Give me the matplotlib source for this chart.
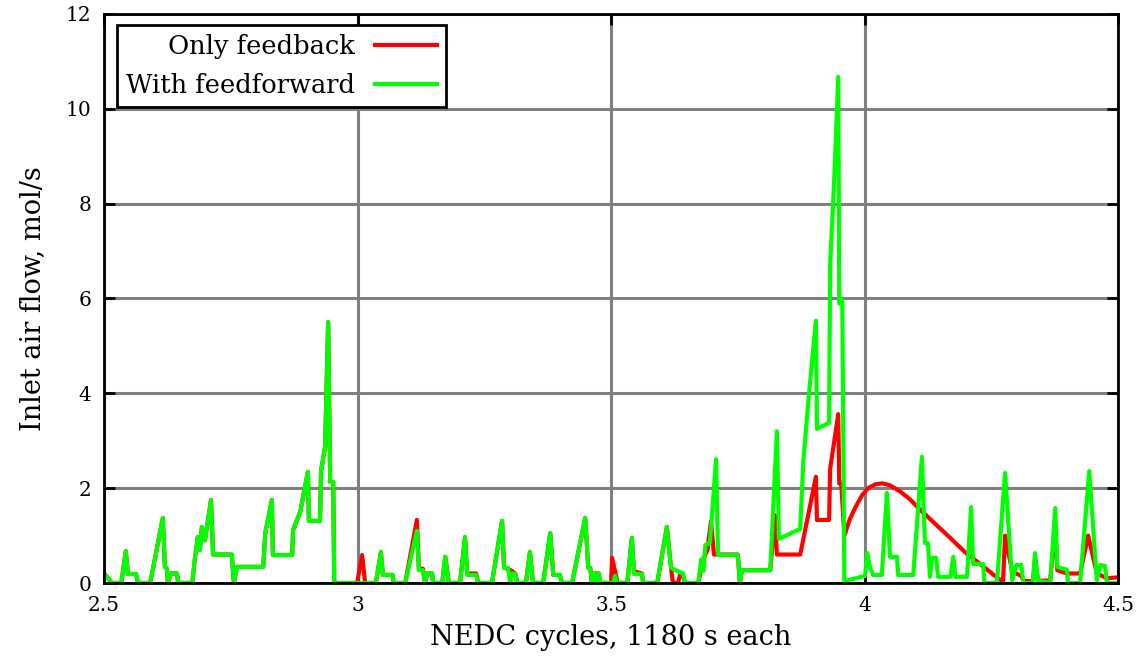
import numpy as np
import matplotlib
matplotlib.use("Agg")
import matplotlib.pyplot as plt

# inlet air flow (mol/s) vs NEDC cycles
ff_x = [2.500, 2.516, 2.534, 2.543, 2.547, 2.563, 2.567, 2.591, 2.616, 2.620,
        2.624, 2.626, 2.632, 2.644, 2.646, 2.674, 2.679, 2.685, 2.689, 2.693,
        2.699, 2.711, 2.715, 2.752, 2.756, 2.762, 2.814, 2.818, 2.831, 2.833,
        2.871, 2.873, 2.887, 2.902, 2.904, 2.926, 2.928, 2.936, 2.942, 2.946,
        2.952, 2.954,
        3.036, 3.046, 3.050, 3.069, 3.071, 3.094, 3.117, 3.121, 3.129, 3.133,
        3.137, 3.147, 3.149, 3.167, 3.173, 3.180, 3.202, 3.212, 3.216, 3.234,
        3.238, 3.265, 3.285, 3.289, 3.297, 3.301, 3.305, 3.311, 3.315, 3.332,
        3.340, 3.346, 3.366, 3.380, 3.386, 3.399, 3.403, 3.423, 3.449, 3.455,
        3.459, 3.462, 3.466, 3.470, 3.472, 3.476, 3.478, 3.504, 3.508, 3.512,
        3.532, 3.541, 3.545, 3.561, 3.563, 3.591, 3.610, 3.618, 3.642, 3.646,
        3.672, 3.678, 3.682, 3.686, 3.695, 3.707, 3.711, 3.750, 3.754, 3.758,
        3.814, 3.827, 3.831, 3.873, 3.879, 3.891, 3.904, 3.906, 3.930, 3.932,
        3.940, 3.948, 3.950, 3.956, 3.960,
        4.001, 4.005, 4.011, 4.017, 4.034, 4.044, 4.050, 4.064, 4.066, 4.096,
        4.113, 4.119, 4.125, 4.129, 4.133, 4.141, 4.145, 4.169, 4.175, 4.179,
        4.202, 4.210, 4.214, 4.234, 4.236, 4.261, 4.277, 4.291, 4.299, 4.309,
        4.313, 4.332, 4.336, 4.342, 4.366, 4.376, 4.380, 4.399, 4.401, 4.425,
        4.443, 4.458, 4.465, 4.474, 4.478, 4.500]
ff_y = [0.20, 0.00, 0.00, 0.67, 0.19, 0.19, 0.00, 0.00, 1.37, 0.34,
        0.30, 0.00, 0.20, 0.20, 0.00, 0.00, 0.50, 0.97, 0.70, 1.18,
        0.90, 1.75, 0.60, 0.60, 0.00, 0.34, 0.34, 1.05, 1.75, 0.59,
        0.59, 1.12, 1.50, 2.34, 1.31, 1.31, 2.36, 2.87, 5.50, 2.13,
        2.13, 0.00,
        0.00, 0.65, 0.17, 0.17, 0.00, 0.00, 1.10, 0.27, 0.27, 0.00,
        0.20, 0.20, 0.00, 0.00, 0.55, 0.00, 0.00, 0.97, 0.17, 0.17,
        0.00, 0.00, 1.31, 0.32, 0.32, 0.00, 0.20, 0.20, 0.00, 0.00,
        0.65, 0.00, 0.00, 1.05, 0.17, 0.17, 0.00, 0.00, 1.37, 0.32,
        0.32, 0.00, 0.20, 0.05, 0.20, 0.20, 0.00, 0.00, 0.15, 0.00,
        0.00, 0.95, 0.19, 0.19, 0.00, 0.00, 1.18, 0.32, 0.20, 0.00,
        0.00, 0.50, 0.25, 0.80, 0.85, 2.61, 0.59, 0.59, 0.00, 0.27,
        0.27, 3.20, 0.93, 1.14, 2.55, 4.07, 5.53, 3.25, 3.38, 6.69,
        8.50, 10.67, 5.89, 5.97, 0.04,
        0.15, 0.63, 0.32, 0.17, 0.17, 1.90, 0.55, 0.55, 0.17, 0.17,
        2.66, 0.84, 0.84, 0.13, 0.53, 0.53, 0.13, 0.13, 0.55, 0.13,
        0.13, 1.60, 0.40, 0.40, 0.00, 0.00, 2.32, 0.06, 0.38, 0.38,
        0.00, 0.00, 0.63, 0.05, 0.00, 1.58, 0.34, 0.28, 0.00, 0.00,
        2.36, 0.06, 0.38, 0.36, 0.00, 0.00]

fb_x = [2.999, 3.009, 3.015, 3.036, 3.046, 3.050, 3.069, 3.071, 3.094, 3.117,
        3.121, 3.129, 3.133, 3.137, 3.147, 3.149, 3.167, 3.173, 3.180, 3.202,
        3.212, 3.216, 3.234, 3.238, 3.265, 3.285, 3.289, 3.297, 3.305, 3.311,
        3.315, 3.332, 3.340, 3.346, 3.366, 3.380, 3.386, 3.399, 3.403, 3.423,
        3.449, 3.455, 3.459, 3.462, 3.466, 3.476, 3.478, 3.500, 3.502, 3.513,
        3.532, 3.541, 3.545, 3.561, 3.563, 3.591, 3.610, 3.618, 3.622, 3.632,
        3.636, 3.642, 3.646, 3.672, 3.682, 3.690, 3.697, 3.703, 3.750, 3.754,
        3.758, 3.814, 3.823, 3.827, 3.873, 3.904, 3.906, 3.930, 3.932, 3.948,
        3.950, 3.954, 3.960, 3.971, 3.983, 3.995, 4.007, 4.021, 4.035, 4.050,
        4.070, 4.090, 4.109, 4.139, 4.169, 4.198, 4.228, 4.257, 4.273, 4.277,
        4.291, 4.299, 4.309, 4.313, 4.332, 4.336, 4.342, 4.366, 4.376, 4.380,
        4.399, 4.425, 4.441, 4.458, 4.478, 4.500]
fb_y = [0.00, 0.59, 0.00, 0.00, 0.65, 0.17, 0.17, 0.00, 0.00, 1.33,
        0.30, 0.30, 0.00, 0.20, 0.20, 0.00, 0.00, 0.55, 0.00, 0.00,
        0.97, 0.20, 0.20, 0.00, 0.00, 1.31, 0.32, 0.30, 0.25, 0.20,
        0.00, 0.00, 0.65, 0.00, 0.00, 1.05, 0.17, 0.17, 0.00, 0.00,
        1.37, 0.32, 0.32, 0.00, 0.20, 0.20, 0.00, 0.00, 0.53, 0.00,
        0.00, 0.95, 0.25, 0.20, 0.00, 0.00, 1.18, 0.35, 0.00, 0.00,
        0.17, 0.15, 0.00, 0.00, 0.50, 0.70, 1.30, 0.60, 0.60, 0.00,
        0.27, 0.27, 1.43, 0.60, 0.60, 2.24, 1.33, 1.33, 2.40, 3.56,
        2.10, 2.10, 1.00, 1.35, 1.62, 1.85, 2.00, 2.08, 2.10, 2.06,
        1.93, 1.76, 1.55, 1.25, 0.95, 0.65, 0.40, 0.15, 0.03, 1.00,
        0.25, 0.20, 0.15, 0.05, 0.03, 0.50, 0.05, 0.05, 1.20, 0.27,
        0.20, 0.20, 1.00, 0.20, 0.10, 0.12]

# before t = 3 both runs are identical
shared = [i for i, x in enumerate(ff_x) if x < 2.99]
fb_x = [ff_x[i] for i in shared] + fb_x
fb_y = [ff_y[i] for i in shared] + fb_y

plt.rcParams['font.family'] = 'DejaVu Serif'

fig = plt.figure(figsize=(11.42, 6.61), dpi=100)
ax = fig.add_axes([0.0911, 0.118, 0.888, 0.861])

ax.plot(fb_x, fb_y, color='#ff0000', lw=3, label='Only feedback', zorder=3)
ax.plot(ff_x, ff_y, color='#00ff00', lw=3, label='With feedforward', zorder=4)

ax.set_xlim(2.5, 4.5)
ax.set_ylim(0, 12)
ax.set_xticks([2.5, 3, 3.5, 4, 4.5])
ax.set_xticklabels(['2.5', '3', '3.5', '4', '4.5'])
ax.set_yticks(np.arange(0, 13, 2))
ax.grid(True, color='#808080', lw=2.2, zorder=1)
ax.set_axisbelow(True)
ax.tick_params(direction='in', length=8, width=2, top=True, right=True,
               labelsize=14.5, pad=9)
for s in ax.spines.values():
    s.set_linewidth(2)
    s.set_zorder(5)

ax.set_xlabel('NEDC cycles, 1180 s each', fontsize=19.5, labelpad=7)
ax.set_ylabel('Inlet air flow, mol/s', fontsize=19.5, labelpad=14)

leg = ax.legend(loc='upper left', bbox_to_anchor=(0.0125, 0.981), markerfirst=False,
                fontsize=18.5, fancybox=False, framealpha=1, edgecolor='black',
                handlelength=2.4, borderpad=0.35, labelspacing=0.55, handletextpad=0.8,
                borderaxespad=0)
leg.get_frame().set_linewidth(2)
leg.set_zorder(6)

fig.savefig('out.png', dpi=100)
